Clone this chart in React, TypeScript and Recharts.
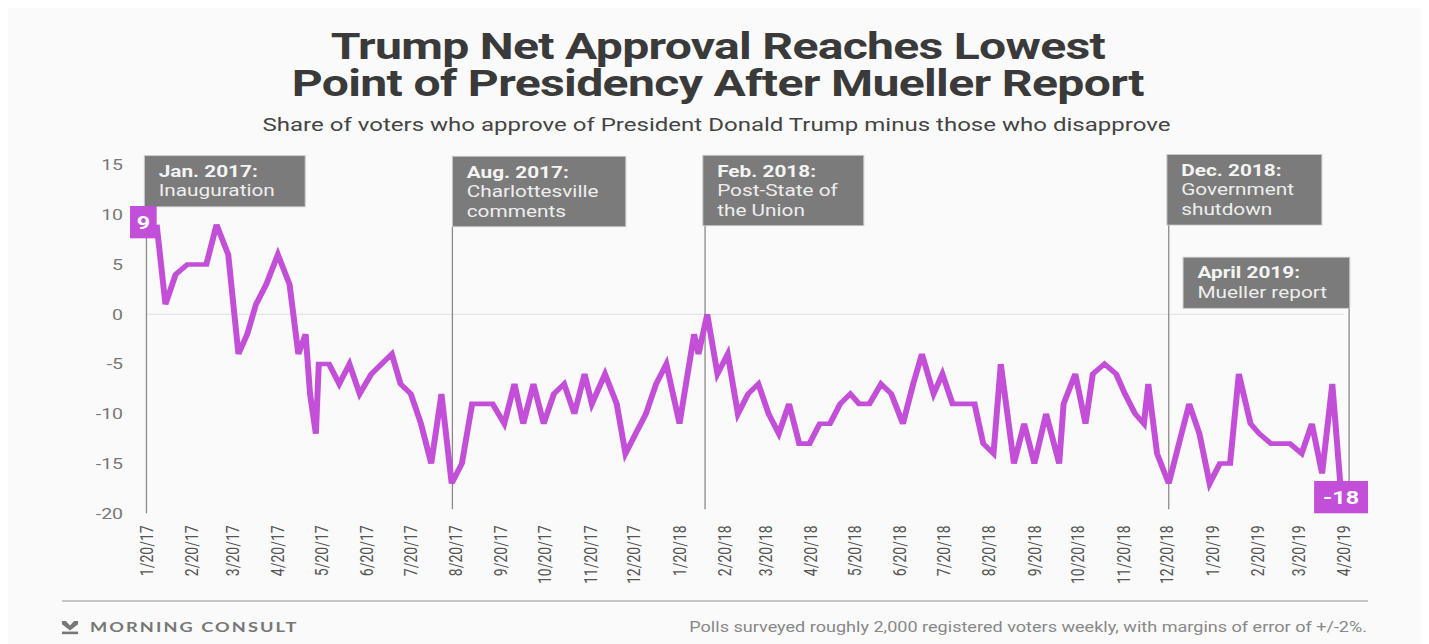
import React from 'react';
import { LineChart, Line, XAxis, YAxis, ReferenceLine, LabelList } from 'recharts';

// ---------- DATA ----------
// days since 1/20/17 (inauguration) for each weekly poll
const daysSinceInauguration = [
  7, 13, 20, 28, 34, 41, 48, 56, 63, 69,
  75, 82, 90, 98, 104, 109, 112, 116, 118, 125,
  132, 139, 146, 154, 161, 168, 174, 181, 188, 195,
  202, 209, 216, 223, 230, 237, 245, 252, 258, 265,
  272, 279, 286, 293, 300, 305, 314, 322, 328, 335,
  342, 349, 356, 365, 375, 378, 384, 391, 398, 405,
  412, 419, 426, 433, 440, 447, 454, 461, 468, 475,
  482, 488, 495, 503, 510, 518, 525, 531, 539, 545,
  552, 559, 567, 573, 580, 585, 594, 601, 608, 616,
  625, 628, 636, 643, 648, 656, 664, 670, 677, 683,
  686, 692, 700, 707, 714, 721, 728, 735, 742, 748,
  756, 762, 770, 777, 783, 791, 798, 805, 812, 818,
];

const netApproval = [
  9, 1, 4, 5, 5, 5, 9, 6, -4, -2,
  1, 3, 6, 3, -4, -2, -8, -12, -5, -5,
  -7, -5, -8, -6, -5, -4, -7, -8, -11, -15,
  -8, -17, -15, -9, -9, -9, -11, -7, -11, -7,
  -11, -8, -7, -10, -6, -9, -6, -9, -14, -12,
  -10, -7, -5, -11, -2, -4, 0, -6, -4, -10,
  -8, -7, -10, -12, -9, -13, -13, -11, -11, -9,
  -8, -9, -9, -7, -8, -11, -7, -4, -8, -6,
  -9, -9, -9, -13, -14, -5, -15, -11, -15, -10,
  -15, -9, -6, -11, -6, -5, -6, -8, -10, -11,
  -7, -14, -17, -13, -9, -12, -17, -15, -15, -6,
  -11, -12, -13, -13, -13, -14, -11, -16, -7, -18,
];

const tickLabels = [
  '1/20/17', '2/20/17', '3/20/17', '4/20/17', '5/20/17', '6/20/17', '7/20/17',
  '8/20/17', '9/20/17', '10/20/17', '11/20/17', '12/20/17',
  '1/20/18', '2/20/18', '3/20/18', '4/20/18', '5/20/18', '6/20/18', '7/20/18',
  '8/20/18', '9/20/18', '10/20/18', '11/20/18', '12/20/18',
  '1/20/19', '2/20/19', '3/20/19', '4/20/19',
];

const yTicks = [15, 10, 5, 0, -5, -10, -15, -20];

const eventDays = [0, 209.5, 382.5, 700, 823.5];
const eventTitles = ['Jan. 2017:', 'Aug. 2017:', 'Feb. 2018:', 'Dec. 2018:', 'April 2019:'];
const eventDescriptions = [
  ['Inauguration'],
  ['Charlottesville', 'comments'],
  ['Post-State of', 'the Union'],
  ['Government', 'shutdown'],
  ['Mueller report'],
];

const titleLines = ['Trump Net Approval Reaches Lowest', 'Point of Presidency After Mueller Report'];
const subtitle = 'Share of voters who approve of President Donald Trump minus those who disapprove';
const brand = 'MORNING CONSULT';
const footnote = 'Polls surveyed roughly 2,000 registered voters weekly, with margins of error of +/-2%.';

// ---------- LAYOUT / STYLE ----------
const SX = 1.3; // horizontal stretch of the whole graphic
const W = 1087;
const H = 636;
const PURPLE = '#c34fd8';
const BOX_GRAY = '#7b7b7b';

// where each event connector starts (y in data units) and the box geometry (px)
const eventLayout = [
  { lineTop: 10.8, lineBottom: -20, boxW: 123.7, dx: -1.6 },
  { lineTop: 8.8, lineBottom: -19.6, boxW: 133.4, dx: 0 },
  { lineTop: 8.9, lineBottom: -19.6, boxW: 123.8, dx: -1.7 },
  { lineTop: 8.97, lineBottom: -19.6, boxW: 119.2, dx: -1.4 },
  { lineTop: 0.6, lineBottom: -17, boxW: 128.2, dx: -127.7 },
];

const BASE = Date.UTC(2017, 0, 20);
const toDay = (s: string) => {
  const [m, d, y] = s.split('/').map(Number);
  return Math.round((Date.UTC(2000 + y, m - 1, d) - BASE) / 86400000);
};
const tickDays = tickLabels.map(toDay);
const labelByDay: Record<number, string> = {};
tickLabels.forEach((l, i) => (labelByDay[tickDays[i]] = l));

const data = daysSinceInauguration.map((d, i) => ({ day: d, net: netApproval[i] }));

const XTick = (props: any) => {
  const { x, y, payload } = props;
  return (
    <text
      transform={`translate(${x},${y}) rotate(-90)`}
      textAnchor="end"
      dominantBaseline="central"
      fontSize={14}
      fill="#555"
    >
      {labelByDay[payload.value]}
    </text>
  );
};

const makeEventLabel = (i: number) => (props: any) => {
  const vb = props.viewBox || {};
  const lx = vb.x ?? 0;
  const top = vb.y ?? 0;
  const lines = [eventTitles[i], ...eventDescriptions[i]];
  const lay = eventLayout[i];
  const bh = 12.5 + lines.length * 19.3;
  const bx = lx + lay.dx;
  const by = top - bh;
  return (
    <g>
      <rect x={bx} y={by} width={lay.boxW} height={bh} fill={BOX_GRAY} stroke="#c8c8c8" strokeWidth={0.8} />
      {lines.map((t, k) => (
        <text
          key={k}
          x={bx + 11}
          y={by + 21.3 + k * 19.5}
          fontSize={16}
          fontWeight={k === 0 ? 700 : 400}
          fill={k === 0 ? '#f4f4f4' : '#eeeeee'}
        >
          {t}
        </text>
      ))}
    </g>
  );
};

const EndLabel = (props: any) => {
  const { x, y, value, index } = props;
  const last = data.length - 1;
  if (index === 0) {
    const w = 20.5;
    const h = 32.3;
    const rx = x - w;
    const ry = y - 18.7;
    return (
      <g>
        <rect x={rx} y={ry} width={w} height={h} fill={PURPLE} />
        <text x={rx + w / 2} y={ry + h / 2 + 6.4} textAnchor="middle" fontSize={18} fontWeight={700} fill="#fff">
          {value}
        </text>
      </g>
    );
  }
  if (index === last) {
    const w = 41.5;
    const h = 32.3;
    const rx = x - w / 2;
    const ry = y - 12.4;
    return (
      <g>
        <rect x={rx} y={ry} width={w} height={h} fill={PURPLE} />
        <text x={rx + w / 2} y={ry + h / 2 + 6.4} textAnchor="middle" fontSize={18} fontWeight={700} fill="#fff">
          {value}
        </text>
      </g>
    );
  }
  return null;
};

export default function App() {
  return (
    <div
      style={{
        width: 1413,
        height: 636,
        background: '#fafafa',
        overflow: 'hidden',
        position: 'relative',
        fontFamily: 'Roboto, "Noto Sans", sans-serif',
      }}
    >
      <div
        style={{
          position: 'absolute',
          left: 0,
          top: 0,
          width: W,
          height: H,
          transform: `scaleX(${SX})`,
          transformOrigin: '0 0',
        }}
      >
        <LineChart
          width={W}
          height={H}
          data={data}
          margin={{ top: 157, right: 53.7, bottom: 60.7, left: 46.5 }}
        >
          <XAxis
            type="number"
            dataKey="day"
            domain={[0, 825]}
            ticks={tickDays}
            interval={0}
            tick={<XTick />}
            axisLine={false}
            tickLine={false}
            tickSize={6}
            tickMargin={6}
            height={70}
          />
          <YAxis
            type="number"
            domain={[-20, 15]}
            ticks={yTicks}
            interval={0}
            width={60}
            axisLine={false}
            tickLine={false}
            tickSize={6}
            tickMargin={12}
            tick={{ fill: '#777', fontSize: 15 }}
          />
          <ReferenceLine segment={[{ x: 0, y: 0 }, { x: 820, y: 0 }]} stroke="#dedede" strokeWidth={1} />
          {eventDays.map((d, i) => (
            <ReferenceLine
              key={i}
              segment={[
                { x: d, y: eventLayout[i].lineTop },
                { x: d, y: eventLayout[i].lineBottom },
              ]}
              stroke="#8a8a8a"
              strokeWidth={1}
              label={makeEventLabel(i)}
            />
          ))}
          <Line
            type="linear"
            dataKey="net"
            stroke={PURPLE}
            strokeWidth={4.6}
            dot={false}
            activeDot={false}
            isAnimationActive={false}
          >
            <LabelList dataKey="net" content={<EndLabel />} />
          </Line>
        </LineChart>
        <svg
          width={W}
          height={H}
          style={{ position: 'absolute', left: 0, top: 0, pointerEvents: 'none' }}
        >
          <text x={546} y={51.5} textAnchor="middle" fontSize={37} fontWeight={700} fill="#3a3a3a" letterSpacing={-0.55}>
            {titleLines[0]}
          </text>
          <text x={546} y={88.5} textAnchor="middle" fontSize={37} fontWeight={700} fill="#3a3a3a" letterSpacing={-0.5}>
            {titleLines[1]}
          </text>
          <text x={545} y={123} textAnchor="middle" fontSize={18.5} fill="#444">
            {subtitle}
          </text>
          <line x1={41.5} x2={1046.2} y1={593} y2={593} stroke="#b5b5b5" strokeWidth={1.5} />
          <g transform="translate(41.5,613)" fill="#777">
            <path d="M0,0 L3,0 L6.2,4.6 L9.4,0 L12.4,0 L12.4,3.2 L6.2,9.4 L0,3.2 Z" />
            <rect x={0} y={10.6} width={12.4} height={2.6} />
          </g>
          <text x={63.1} y={624} fontSize={14} fontWeight={700} fill="#777" letterSpacing={1.6} fontFamily="Lato, sans-serif">
            {brand}
          </text>
          <text x={1045.4} y={624} textAnchor="end" fontSize={13.9} fill="#888">
            {footnote}
          </text>
        </svg>
      </div>
    </div>
  );
}
